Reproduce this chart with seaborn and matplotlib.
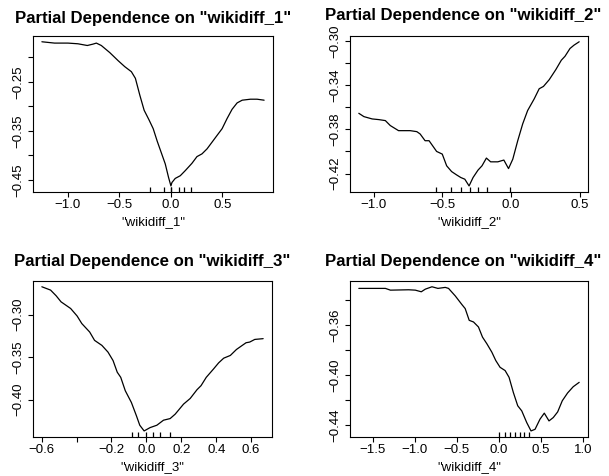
import matplotlib
matplotlib.use("Agg")
import matplotlib.pyplot as plt
import seaborn as sns

# ---------------- data ----------------
P1_X = [-1.253, -1.130, -1.0, -0.903, -0.812, -0.757, -0.724, -0.676, -0.594, -0.513,
        -0.448, -0.384, -0.345, -0.302, -0.260, -0.214, -0.172, -0.133, -0.055, -0.023,
        0.0, 0.010, 0.042, 0.091, 0.139, 0.204, 0.253, 0.302, 0.351, 0.399,
        0.448, 0.497, 0.545, 0.594, 0.643, 0.692, 0.772, 0.837, 0.905]
P1_Y = [-0.1686, -0.1713, -0.1713, -0.1727, -0.1762, -0.1734, -0.1713, -0.1762, -0.1906, -0.207,
        -0.2193, -0.2295, -0.243, -0.2773, -0.308, -0.327, -0.3455, -0.371, -0.4172, -0.4447,
        -0.462, -0.455, -0.4467, -0.4412, -0.4309, -0.416, -0.4023, -0.3967, -0.3865, -0.373,
        -0.3592, -0.3455, -0.325, -0.306, -0.293, -0.2875, -0.2855, -0.2855, -0.2875]
P1_RUG = [-0.205, -0.07, 0.0, 0.0, 0.074, 0.123, 0.195]

P2_X = [-1.108, -1.071, -1.011, -0.963, -0.915, -0.879, -0.819, -0.734, -0.686, -0.662,
        -0.626, -0.597, -0.542, -0.501, -0.469, -0.433, -0.397, -0.366, -0.337, -0.306,
        -0.277, -0.241, -0.212, -0.180, -0.149, -0.097, -0.053, -0.019, 0.012, 0.048,
        0.084, 0.120, 0.168, 0.204, 0.235, 0.277, 0.325, 0.365, 0.392, 0.428,
        0.457, 0.495]
P2_Y = [-0.3655, -0.3685, -0.3706, -0.3712, -0.3721, -0.3766, -0.3812, -0.3812, -0.3821, -0.3842,
        -0.3903, -0.3903, -0.400, -0.4024, -0.413, -0.4182, -0.4212, -0.4236, -0.4251, -0.4312,
        -0.4236, -0.4169, -0.413, -0.406, -0.4094, -0.4094, -0.4078, -0.4155, -0.407, -0.3903,
        -0.3751, -0.363, -0.3524, -0.3433, -0.3412, -0.3351, -0.326, -0.3175, -0.3139, -0.3069,
        -0.3039, -0.3008]
P2_RUG = [-0.543, -0.436, -0.364, -0.302, -0.241, -0.178, -0.01]

P3_X = [-0.599, -0.549, -0.517, -0.489, -0.434, -0.397, -0.370, -0.325, -0.297, -0.255,
        -0.220, -0.191, -0.167, -0.147, -0.121, -0.086, -0.057, -0.038, -0.013, 0.021,
        0.060, 0.098, 0.136, 0.165, 0.213, 0.251, 0.290, 0.313, 0.343, 0.385,
        0.414, 0.443, 0.481, 0.516, 0.543, 0.571, 0.592, 0.621, 0.669]
P3_Y = [-0.2674, -0.2713, -0.278, -0.2851, -0.2929, -0.3017, -0.3106, -0.3205, -0.3303, -0.3362,
        -0.3441, -0.354, -0.3677, -0.3737, -0.3894, -0.4032, -0.4189, -0.4299, -0.4366, -0.4327,
        -0.4299, -0.424, -0.4221, -0.4169, -0.4051, -0.3985, -0.3882, -0.3835, -0.3737, -0.3638,
        -0.3567, -0.3512, -0.348, -0.341, -0.3371, -0.3331, -0.3323, -0.3292, -0.3283]
P3_RUG = [-0.082, -0.048, 0.0, 0.040, 0.079, 0.136]

P4_X = [-1.665, -1.349, -1.289, -1.072, -0.993, -0.922, -0.874, -0.795, -0.724, -0.637,
        -0.598, -0.518, -0.439, -0.40, -0.352, -0.301, -0.242, -0.194, -0.142, -0.083,
        -0.036, 0.015, 0.075, 0.122, 0.173, 0.225, 0.273, 0.332, 0.383, 0.431,
        0.490, 0.541, 0.597, 0.648, 0.700, 0.755, 0.818, 0.885, 0.956]
P4_Y = [-0.3306, -0.3306, -0.332, -0.3317, -0.332, -0.3333, -0.3312, -0.3293, -0.3306, -0.3298,
        -0.3306, -0.3366, -0.3435, -0.3467, -0.3561, -0.3574, -0.3614, -0.3695, -0.3748, -0.3815,
        -0.3882, -0.3936, -0.3962, -0.4016, -0.4137, -0.4243, -0.4284, -0.4377, -0.4444, -0.4431,
        -0.435, -0.4302, -0.4364, -0.4337, -0.4292, -0.4203, -0.4141, -0.4091, -0.4056]
P4_RUG = [0.0, 0.07, 0.13, 0.19, 0.25, 0.30, 0.36]

TITLES = ['Partial Dependence on "wikidiff_1"', 'Partial Dependence on "wikidiff_2"',
          'Partial Dependence on "wikidiff_3"', 'Partial Dependence on "wikidiff_4"']
XLABELS = ['"wikidiff_1"', '"wikidiff_2"', '"wikidiff_3"', '"wikidiff_4"']

P1_XTICKS = [-1.0, -0.5, 0.0, 0.5]
P1_XLABELS = ["\u22121.0", "\u22120.5", "0.0", "0.5"]
P1_YTICKS = [-0.45, -0.40, -0.35, -0.30, -0.25, -0.20]
P1_YLABELS = ["\u22120.45", "", "\u22120.35", "", "\u22120.25", ""]

P2_XTICKS = [-1.0, -0.5, 0.0, 0.5]
P2_XLABELS = ["\u22121.0", "\u22120.5", "0.0", "0.5"]
P2_YTICKS = [-0.42, -0.40, -0.38, -0.36, -0.34, -0.32, -0.30]
P2_YLABELS = ["\u22120.42", "", "\u22120.38", "", "\u22120.34", "", "\u22120.30"]

P3_XTICKS = [-0.6, -0.4, -0.2, 0.0, 0.2, 0.4, 0.6]
P3_XLABELS = ["\u22120.6", "", "\u22120.2", "0.0", "0.2", "0.4", "0.6"]
P3_YTICKS = [-0.40, -0.35, -0.30]
P3_YLABELS = ["\u22120.40", "\u22120.35", "\u22120.30"]

P4_XTICKS = [-1.5, -1.0, -0.5, 0.0, 0.5, 1.0]
P4_XLABELS = ["\u22121.5", "\u22121.0", "\u22120.5", "0.0", "0.5", "1.0"]
P4_YTICKS = [-0.44, -0.42, -0.40, -0.38, -0.36, -0.34]
P4_YLABELS = ["\u22120.44", "", "\u22120.40", "", "\u22120.36", ""]

# ---------------- style ----------------
sns.set_style("ticks")
plt.rcParams["font.family"] = ["Liberation Sans", "DejaVu Sans"]
plt.rcParams.update({
    "text.color": "black",
    "axes.labelcolor": "black",
    "axes.titlecolor": "black",
    "axes.edgecolor": "black",
    "axes.linewidth": 0.8,
    "xtick.color": "black",
    "ytick.color": "black",
    "xtick.labelcolor": "black",
    "ytick.labelcolor": "black",
    "xtick.major.size": 3.6,
    "ytick.major.size": 3.6,
    "xtick.major.width": 0.8,
    "ytick.major.width": 0.8,
    "xtick.labelsize": 9.5,
    "ytick.labelsize": 9.5,
})

W, H = 609, 476
fig = plt.figure(figsize=(W / 100, H / 100), dpi=100)
fig.patch.set_facecolor("white")

# axes boxes in pixels: left, top, right, bottom
BOXES = [(33, 36, 273, 191.7), (350, 36, 588, 191.7),
         (33, 281, 272, 436.7), (350, 281, 588, 436.7)]
TITLE_PADS = [9.4, 11.6, 10.6, 10.6]
TITLE_X = [0.5, 0.474, 0.5, 0.474]

panels = [
    (P1_X, P1_Y, P1_RUG, P1_XTICKS, P1_XLABELS, P1_YTICKS, P1_YLABELS),
    (P2_X, P2_Y, P2_RUG, P2_XTICKS, P2_XLABELS, P2_YTICKS, P2_YLABELS),
    (P3_X, P3_Y, P3_RUG, P3_XTICKS, P3_XLABELS, P3_YTICKS, P3_YLABELS),
    (P4_X, P4_Y, P4_RUG, P4_XTICKS, P4_XLABELS, P4_YTICKS, P4_YLABELS),
]

for i, (xs, ys, rug, xt, xl, yt, yl) in enumerate(panels):
    l, t, r, b = BOXES[i]
    ax = fig.add_axes([l / W, 1 - b / H, (r - l) / W, (b - t) / H])
    ax.set_facecolor("white")
    sns.lineplot(x=xs, y=ys, ax=ax, color="black", linewidth=0.9,
                 sort=False, estimator=None)
    sns.rugplot(x=rug, ax=ax, height=0.03, color="black", linewidth=0.9)
    ax.margins(x=0.04, y=0.04)
    ax.set_xticks(xt, xl)
    ax.set_yticks(yt, yl)
    ax.tick_params(axis="x", pad=2, labelcolor="black")
    ax.tick_params(axis="y", pad=2.5, labelrotation=90, labelcolor="black")
    for lab in ax.get_yticklabels():
        lab.set_va("center")
    ax.set_xlabel(XLABELS[i], fontsize=9.5, labelpad=3, color="black")
    ax.set_ylabel("")
    ax.set_title(TITLES[i], fontsize=12.1, fontweight="bold", pad=TITLE_PADS[i],
                 color="black", x=TITLE_X[i])
    for s in ax.spines.values():
        s.set_visible(True)
        s.set_color("black")
        s.set_linewidth(0.8)

fig.savefig("out.png", dpi=100, facecolor="white")
